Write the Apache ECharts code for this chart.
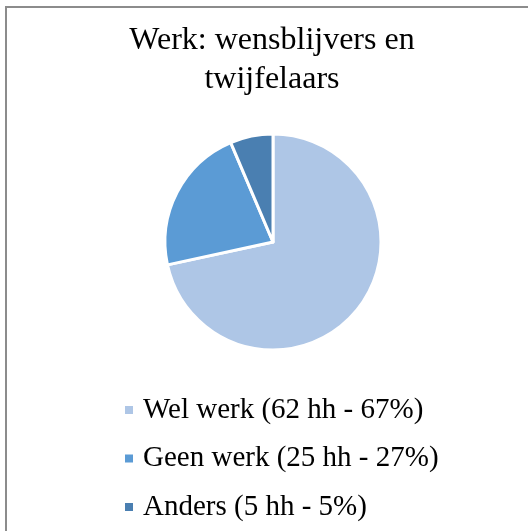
<!DOCTYPE html>
<html>
<head>
<meta charset="utf-8">
<script src="https://cdn.jsdelivr.net/npm/echarts@6/dist/echarts.min.js"></script>
<style>
  html, body { margin: 0; padding: 0; background: #fff; }
  #chart { width: 528px; height: 531px; }
</style>
</head>
<body>
<div id="chart"></div>
<script>
// categories as shown in the legend
const categories = ['Wel werk (62 hh - 67%)', 'Geen werk (25 hh - 27%)', 'Anders (5 hh - 5%)']
// slice shares as measured from the pie itself (percent)
const shares = [71.6, 22.0, 6.4]
const colors = ['#aec6e6', '#5b9bd5', '#4a7fb1']

const chart = echarts.init(document.getElementById('chart'))

const option = {
  animation: false,
  color: colors,
  title: {
    text: 'Werk: wensblijvers en\ntwijfelaars',
    left: 272,
    top: 21,
    padding: 0,
    textAlign: 'center',
    textStyle: {
      fontFamily: 'Liberation Serif',
      fontWeight: 'normal',
      fontSize: 32,
      lineHeight: 39,
      color: '#000'
    }
  },
  legend: {
    orient: 'vertical',
    left: 123,
    top: 395,
    padding: 0,
    itemWidth: 10,
    itemHeight: 10,
    itemGap: 18.5,
    icon: 'rect',
    selectedMode: false,
    textStyle: {
      fontFamily: 'Liberation Serif',
      fontSize: 29,
      lineHeight: 30,
      color: '#000',
      padding: [0, 0, 0, 4]
    },
    data: categories
  },
  graphic: [
    { type: 'line', shape: { x1: 5, y1: 7, x2: 528, y2: 7 }, style: { stroke: '#8c8c8c', lineWidth: 2 } },
    { type: 'line', shape: { x1: 6, y1: 6, x2: 6, y2: 531 }, style: { stroke: '#8c8c8c', lineWidth: 2 } }
  ],
  series: [{
    type: 'pie',
    center: [273, 242],
    radius: 108,
    startAngle: 90,
    clockwise: true,
    label: { show: false },
    labelLine: { show: false },
    emphasis: { disabled: true },
    itemStyle: { borderColor: '#fff', borderWidth: 3 },
    data: categories.map((name, i) => ({ name: name, value: shares[i] }))
  }]
}

chart.setOption(option)
</script>
</body>
</html>
